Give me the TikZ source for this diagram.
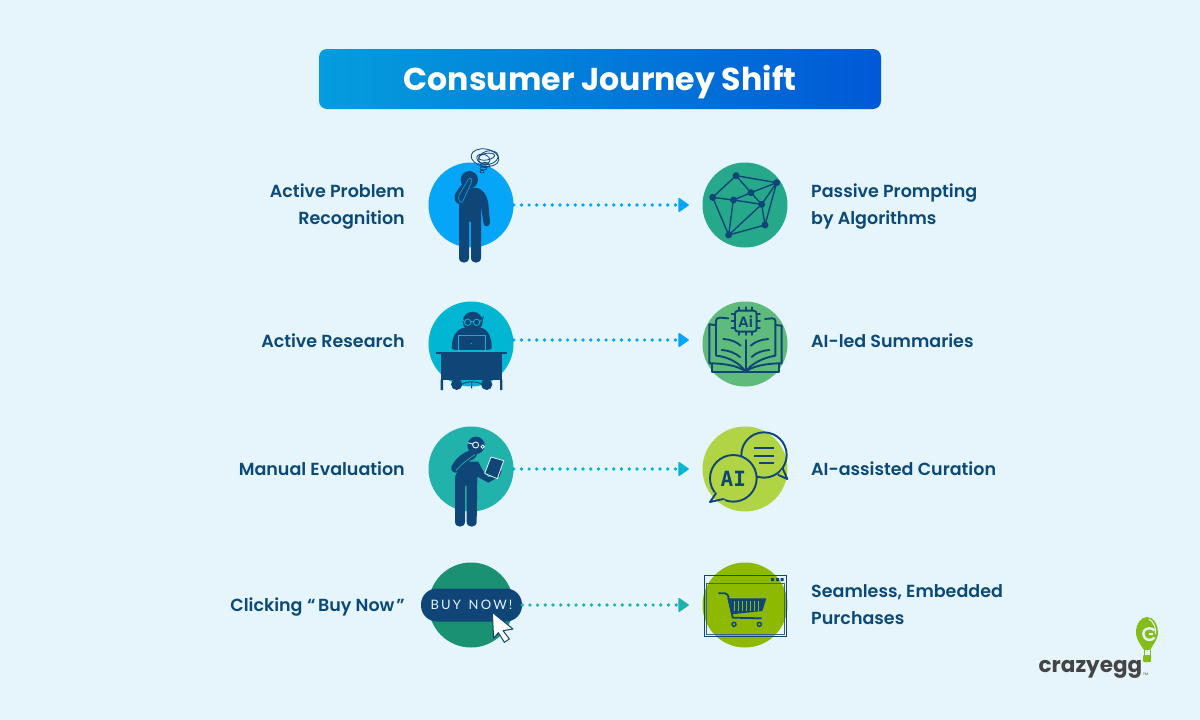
\documentclass[tikz,border=0pt]{standalone}
\usepackage{fontspec}
\setmainfont{Poppins}[BoldFont={Poppins SemiBold}]
\newfontfamily\logofont{Poppins}[BoldFont={Poppins Bold}]
\newfontfamily\btnfont{Lato}
\newfontfamily\monoaifont{DejaVu Sans Mono}
\usetikzlibrary{arrows.meta,shapes.geometric,calc}
\definecolor{navy}{HTML}{0F4677}
\definecolor{txt}{HTML}{0B4A78}
\definecolor{bgc}{HTML}{E6F4FC}
\definecolor{cA}{HTML}{05A6F7}
\definecolor{cB}{HTML}{00B6D2}
\definecolor{cC}{HTML}{20B2AB}
\definecolor{cD}{HTML}{1A9171}
\definecolor{cE}{HTML}{26A98B}
\definecolor{cF}{HTML}{5FBB7C}
\definecolor{cG}{HTML}{B0D443}
\definecolor{cH}{HTML}{8DB900}
\definecolor{gradL}{HTML}{049DDD}
\definecolor{gradR}{HTML}{0059D6}
\definecolor{logoG}{HTML}{84BD1A}
\definecolor{logoT}{HTML}{454545}
\tikzset{
  disc/.style={circle,inner sep=0pt,minimum size=85pt,fill=#1},
  lbl/.style={font=\bfseries\fontsize{17.5}{27}\selectfont,text=txt,inner sep=0pt},
  lleft/.style={lbl,align=right,anchor=east},
  lright/.style={lbl,align=left,anchor=west},
  dotted link/.style={draw=#1,line width=3.7pt,line cap=round,dash pattern=on 0pt off 7.7pt,
    shorten >=13.5pt,-{Triangle[round,length=11pt,width=15pt,line width=1.5pt,fill=#1]}},
  ink/.style={fill=navy},
  wire/.style={draw=navy,line width=1.9pt,line cap=round,line join=round},
  thin wire/.style={draw=navy,line width=.8pt},
}
\begin{document}
\begin{tikzpicture}[x=1pt,y=-1pt]
\useasboundingbox (0,0) rectangle (1200,720);
\fill[bgc] (0,0) rectangle (1200,720);
% title
\node[rounded corners=8pt,minimum width=562pt,minimum height=60pt,inner sep=0pt,
  left color=gradL,right color=gradR] (title) at (600,79) {};
\node[text=white,font=\logofont\bfseries\fontsize{31.6}{36}\selectfont,inner sep=0pt,anchor=base] (titletext) at (600,90.5) {Consumer Journey Shift};
% discs
\node[disc=cA] (l1) at (471,205) {};
\node[disc=cB] (l2) at (471,344) {};
\node[disc=cC] (l3) at (471,469) {};
\node[disc=cD] (l4) at (471,605) {};
\node[disc=cE] (r1) at (745,205) {};
\node[disc=cF] (r2) at (745,344) {};
\node[disc=cG] (r3) at (745,469) {};
\node[disc=cH] (r4) at (745,605) {};
% buy-now pill
\node[rounded corners=16pt,fill=navy,minimum width=101pt,minimum height=33pt,inner sep=0pt,text=bgc] (buy) at (471.5,605)
  {\btnfont\fontsize{13}{15}\selectfont B\,U\,Y\, \,N\,O\,W\,!};
% connectors
\draw[dotted link=cA] (l1) -- (r1);
\draw[dotted link=cA] ([yshift=4pt]l2.east) -- ([yshift=4pt]r2.west);
\draw[dotted link=cB] (l3) -- (r3);
\draw[dotted link=cC] (buy) -- (r4);
% labels
\node[lleft] (t1) at (405,207) {Active Problem\\Recognition};
\node[lleft] (t2) at (405,341) {Active Research};
\node[lleft] (t3) at (405,469) {Manual Evaluation};
\node[lleft] (t4) at (405,607) {Clicking\kern.5pt{} “\kern2.5ptBuy Now\kern2pt”};
\node[lright] (u1) at (811,207) {Passive Prompting\\by Algorithms};
\node[lright] (u2) at (811,341) {AI-led Summaries};
\node[lright] (u3) at (811,469) {AI-assisted Curation};
\node[lright] (u4) at (811,605) {Seamless, Embedded\\Purchases};
% person 1
\begin{scope}[shift={(420,145)},scale=1/3]
  \fill[ink] (148,104) circle (26);
  \fill[ink] (117,190) .. controls (117,160) and (135,130) .. (160,128) -- (165,128)
    .. controls (190,130) and (200,150) .. (205,175) -- (210,232)
    .. controls (210,248) and (190,248) .. (190,232) -- (183,180)
    -- (183,338) .. controls (183,358) and (153,358) .. (153,338) -- (153,230) -- (147,230) -- (147,338)
    .. controls (147,358) and (117,358) .. (117,338) -- cycle;
  \fill[ink] (160,95) .. controls (150,120) and (135,175) .. (120,178)
    .. controls (105,178) and (98,155) .. (108,142) -- (140,100) .. controls (148,90) and (165,85) .. (160,95);
  \draw[cA,line width=.6pt] (117,150) -- (145,103) .. controls (150,97) and (158,100) .. (155,110) -- (128,170) .. controls (122,178) and (112,165) .. (117,150);
  \foreach \a/\rx/\ry/\cx/\cy in {-10/42/26/195/38, 15/30/20/205/38, -20/20/14/190/42, 10/24/10/200/35, 0/14/8/195/60, 0/10/5/190/70, 0/6/4/186/80}
    \draw[thin wire,rotate around={\a:(\cx,\cy)}] (\cx,\cy) ellipse ({\rx} and {\ry});
\end{scope}
% person 2
\begin{scope}[shift={(420,295)},scale=1/3]
  \fill[ink] (95,160) .. controls (95,125) and (110,100) .. (135,98) -- (180,98)
    .. controls (205,100) and (216,130) .. (215,160) .. controls (215,170) and (95,170) .. (95,160) -- cycle;
  \fill[ink] (158,80) circle (30);
  \draw[cB,line width=.9pt] (143,82) circle (9.5) (170,82) circle (9.5) (152,80) -- (161,80) (180,80) -- (190,70) (128,75) -- (134,80);
  \draw[navy,line width=1pt] (190,64) -- (183,92);
  \fill[ink,draw=cB,line width=.7pt] (116,120) rectangle (196,167);
  \fill[cB] (154,145) circle (2);
  \fill[ink] (110,268) circle (17) (200,268) circle (17);
  \draw[navy,line width=.9pt] (125,268) .. controls (140,258) and (170,258) .. (185,268) (155,262) -- (155,280);
  \fill[ink] (48,171) rectangle (261,178);
  \fill[ink] (62,178) rectangle (247,254);
  \fill[ink] (62,254) rectangle (69,285) (240,254) rectangle (247,285);
\end{scope}
% person 3
\begin{scope}[shift={(420,420)},scale=1/3]
  \fill[ink] (168,76) circle (26);
  \fill[ink] (105,175) .. controls (108,150) and (130,130) .. (150,125) -- (175,125)
    .. controls (182,140) and (195,165) .. (205,172) -- (230,165) -- (245,150) -- (240,168) -- (205,188) -- (172,170)
    -- (170,305) .. controls (170,325) and (140,325) .. (140,305) -- (140,197) -- (135,197) -- (135,305)
    .. controls (135,325) and (105,325) .. (105,305) -- cycle;
  \fill[ink] (170,88) .. controls (178,100) and (165,120) .. (150,122) .. controls (135,135) and (115,160) .. (105,158)
    .. controls (92,155) and (90,140) .. (100,130) .. controls (115,105) and (150,85) .. (170,88) -- cycle;
  \draw[cC,line width=.7pt] (108,152) .. controls (125,130) and (150,115) .. (165,103);
  \draw[bgc,line width=.9pt] (167,75) circle (9) (188,80) circle (5) (143,68) -- (158,72);
  \fill[ink,draw=bgc,line width=.8pt,line join=round] (213,111) -- (251,122) -- (232,176) -- (194,160) -- cycle;
\end{scope}
% cursor
\begin{scope}[shift={(415,555)},scale=1/3]
  \fill[white,draw=navy,line width=1pt,line join=round] (232,172) -- (294,222) -- (264,227) -- (283,252) -- (268,262) -- (250,233) -- (236,250) -- cycle;
\end{scope}
% network
\begin{scope}[shift={(670,155)},scale=1/3]
  \coordinate (A) at (198,62); \coordinate (B) at (320,83); \coordinate (C) at (243,113);
  \coordinate (D) at (128,127); \coordinate (E) at (190,135); \coordinate (F) at (275,148);
  \coordinate (G) at (285,210); \coordinate (H) at (176,240);
  \draw[navy,line width=1.4pt] (A)--(B) (A)--(D) (A)--(C) (C)--(B) (C)--(E) (D)--(E) (E)--(F) (C)--(F) (F)--(B) (F)--(G) (B)--(G) (D)--(H) (E)--(H) (F)--(H) (G)--(H);
  \foreach \p in {A,B,C,D,E,F,G,H} \fill[ink] (\p) circle (10.5);
\end{scope}
% book
\begin{scope}[shift={(670,295)},scale=1/3]
  \draw[wire] (135,90) -- (118,88) -- (118,205) .. controls (170,205) and (210,215) .. (227,230)
    .. controls (245,215) and (285,205) .. (335,205) -- (335,92) -- (316,90);
  \draw[wire] (175,70) -- (150,68) .. controls (142,68) and (138,72) .. (138,78) -- (138,182) .. controls (175,185) and (210,205) .. (227,230)
    .. controls (245,205) and (280,188) .. (316,182) -- (316,78) .. controls (316,72) and (312,70) .. (306,70) -- (285,72);
  \draw[wire] (227,135) -- (227,230);
  \draw[wire] (125,208) -- (125,230) -- (328,230) -- (328,208);
  \draw[wire] (160,132) .. controls (180,133) and (200,140) .. (212,152);
  \draw[wire] (155,165) .. controls (175,166) and (195,173) .. (210,186);
  \draw[wire] (295,132) .. controls (275,133) and (255,140) .. (242,152);
  \draw[wire] (298,165) .. controls (278,166) and (258,173) .. (245,186);
  \draw[wire,rounded corners=3pt] (195,47) rectangle (260,110);
  \foreach \v in {207,227,247} \draw[wire] (\v,37) -- (\v,47) (\v,110) -- (\v,120);
  \foreach \v in {58,78,98} \draw[wire] (185,\v) -- (195,\v) (260,\v) -- (270,\v);
  \node[text=navy,font=\bfseries\fontsize{15}{17}\selectfont,inner sep=0pt] (aichip) at (227,79) {Ai};
\end{scope}
% chat bubbles
\begin{scope}[shift={(670,425)},scale=1/3]
  \draw[wire] (282,90) circle (68);
  \draw[wire,fill=cG] (325,150) -- (352,162) -- (338,130);
  \draw[wire,fill=cG] (190,160) circle (70);
  \fill[cG] (125,205) -- (135,225) -- (165,228) -- (150,200) -- cycle;
  \draw[wire] (138,205) -- (120,231) -- (160,222);
  \draw[navy,line width=2pt] (252,70) -- (312,70) (252,92) -- (312,92) (268,115) -- (312,115);
  \node[text=navy,font=\monoaifont\bfseries\fontsize{21}{24}\selectfont,inner sep=0pt] (aibub) at (190,162) {AI};
\end{scope}
% browser and cart
\begin{scope}[shift={(670,555)},scale=1/3]
  \draw[navy!55!gray,line width=1pt] (110,85) rectangle (342,238);
  \draw[navy,line width=1.2pt] (103,62) rectangle (350,245);
  \fill[ink] (303,69) rectangle (312,78) (318,69) rectangle (327,78) (332,69) rectangle (341,78);
  \draw[navy,line width=1.8pt,line join=round] (145,115) -- (165,115) .. controls (172,115) and (174,120) .. (176,130) -- (188,188) -- (275,190);
  \fill[ink] (172,130) -- (289,130) -- (277,168) -- (184,178) -- cycle;
  \foreach \v in {192,204,216,228,240,252,264} \draw[cH,line width=.9pt] (\v,138) -- (\v,168);
  \draw[navy,line width=1.4pt] (192,208) circle (6) (268,208) circle (6);
\end{scope}
% logo
\fill[logoG] (1147,617) .. controls (1154,617) and (1158,625) .. (1158,632) .. controls (1158,640) and (1152,646) .. (1150,650) -- (1144,650)
  .. controls (1141,645) and (1136,640) .. (1136,632) .. controls (1136,624) and (1141,617) .. (1147,617) -- cycle;
\draw[bgc,line width=1pt] (1149,619) .. controls (1154,622) and (1156,628) .. (1155.5,634);
\draw[bgc,line width=2.4pt] (1154.5,630.5) .. controls (1152,627.5) and (1146,627.5) .. (1144,631) .. controls (1142,635) and (1145,640) .. (1149,640) .. controls (1151.5,640) and (1153.5,639) .. (1154.5,637.5);
\draw[bgc,line width=1.4pt] (1153,634) -- (1149,634);
\draw[logoG,line width=.5pt] (1144,650) -- (1144,656) (1150,650) -- (1150,656);
\fill[logoG,rounded corners=1pt] (1143,655) rectangle (1151,662);
\node[anchor=base west,inner sep=0pt,text=logoT,font=\logofont\bfseries\fontsize{21.5}{24}\selectfont] (brand) at (1038.5,672) {crazyegg};
\node[anchor=base west,inner sep=0pt,text=logoT,font=\logofont\fontsize{3.5}{5}\selectfont] (tm) at (1143,675) {TM};
\end{tikzpicture}
\end{document}
